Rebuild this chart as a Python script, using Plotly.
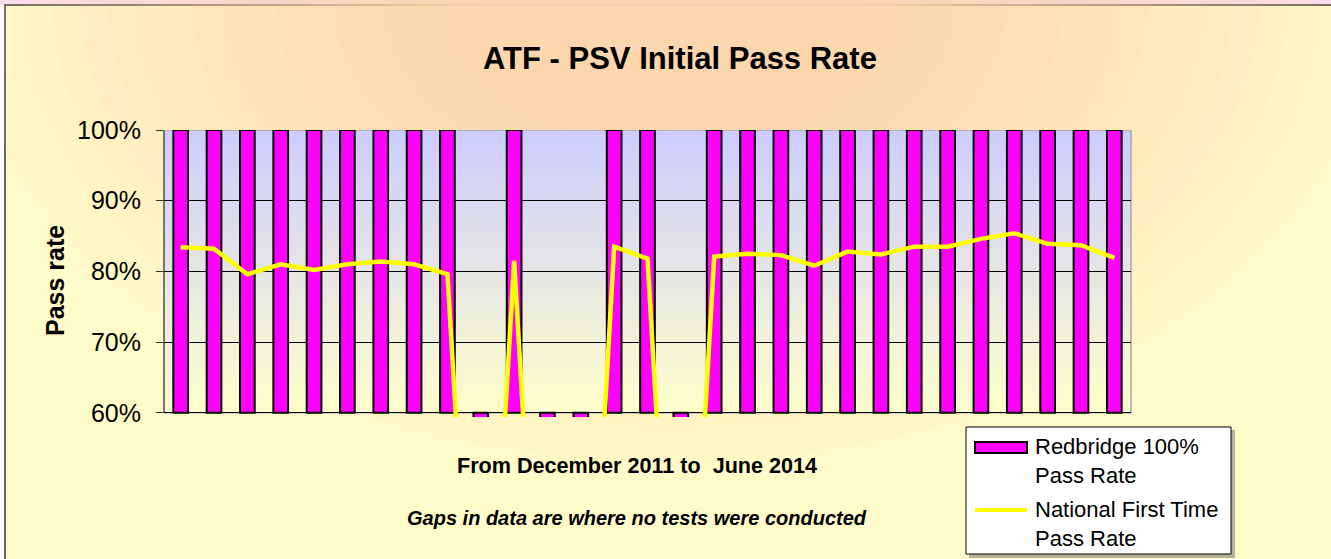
import plotly.graph_objects as go

# ---------------- data ----------------
months = ["Dec 2011", "Jan 2012", "Feb 2012", "Mar 2012", "Apr 2012", "May 2012",
          "Jun 2012", "Jul 2012", "Aug 2012", "Sep 2012", "Oct 2012", "Nov 2012",
          "Dec 2012", "Jan 2013", "Feb 2013", "Mar 2013", "Apr 2013", "May 2013",
          "Jun 2013", "Jul 2013", "Aug 2013", "Sep 2013", "Oct 2013", "Nov 2013",
          "Dec 2013", "Jan 2014", "Feb 2014", "Mar 2014", "Apr 2014"]
redbridge = [1, 1, 1, 1, 1, 1, 1, 1, 1, 0, 1, 0, 0, 1, 1, 0, 1, 1, 1, 1,
             1, 1, 1, 1, 1, 1, 1, 1, 1]
national = [0.834, 0.832, 0.796, 0.810, 0.802, 0.810, 0.814, 0.810, 0.796, 0.0,
            0.815, 0.0, 0.0, 0.835, 0.818, 0.0, 0.821, 0.825, 0.823, 0.808,
            0.828, 0.824, 0.835, 0.835, 0.846, 0.854, 0.839, 0.837, 0.819]
tick_vals = [0.6, 0.7, 0.8, 0.9, 1.0]
tick_text = ["60%", "70%", "80%", "90%", "100%"]
axis_min = 0.6

# ---------------- layout geometry ----------------
W, H = 1331, 559
ML, MR, MT, MB = 164, 200, 130, 142
PW = W - ML - MR
PH = H - MT - MB


def px(x):
    return (x - ML) / PW


def py(y):
    return (H - MB - y) / PH


FONT = "Arial, Liberation Sans, sans-serif"

fig = go.Figure()

fig.add_trace(go.Bar(
    x=months,
    y=[v - axis_min for v in redbridge],
    base=axis_min,
    name="Redbridge 100% Pass Rate",
    marker=dict(color="#ff00ff", line=dict(color="#000000", width=2)),
    showlegend=False,
))

fig.add_trace(go.Scatter(
    x=months,
    y=national,
    mode="lines",
    name="National First Time Pass Rate",
    line=dict(color="#ffff00", width=4.5),
    showlegend=False,
))

shapes = []

# top pink strip and outer frame
shapes.append(dict(type="rect", xref="paper", yref="paper", layer="below",
                   x0=px(-10), x1=px(W + 10), y0=py(5), y1=py(-10),
                   fillcolor="#f9e0f2", line=dict(width=0)))
shapes.append(dict(type="rect", xref="paper", yref="paper", layer="below",
                   x0=px(5), x1=px(W + 20), y0=py(H + 20), y1=py(5),
                   fillcolor="#fffbc8", line=dict(color="#333333", width=1.5)))

# peach glow (stacked ellipses approximating a radial gradient)
N = 26
cx, cy, rx, ry = 670, 0, 730, 480
prev = 0.0
for j in range(N):
    s = 1 - j / N
    d = s - 0.5 / N
    target = min(0.97, max(0.0, (1 - d) / 0.75))
    if target <= prev:
        continue
    a = (target - prev) / (1 - prev)
    prev = target
    shapes.append(dict(type="circle", xref="paper", yref="paper", layer="below",
                       x0=px(cx - rx * s), x1=px(cx + rx * s),
                       y0=py(cy + ry * s), y1=py(cy - ry * s),
                       fillcolor="#fcd6ae", opacity=a, line=dict(width=0)))

# plot-area vertical gradient (lavender -> light yellow)
NS = 60
top = (204, 204, 255)
bot = (255, 255, 204)
for i in range(NS):
    f = (i + 0.5) / NS
    c = tuple(round(bot[k] * (1 - f) + top[k] * f) for k in range(3))
    y0 = axis_min + 0.4 * i / NS
    y1 = axis_min + 0.4 * (i + 1) / NS + 0.001
    shapes.append(dict(type="rect", xref="paper", yref="y", layer="below",
                       x0=0, x1=1, y0=y0, y1=min(y1, 1.0),
                       fillcolor="rgb(%d,%d,%d)" % c, line=dict(width=0)))

# plot area border and y axis line
shapes.append(dict(type="rect", xref="paper", yref="y", layer="between",
                   x0=0, x1=1, y0=0.6, y1=1.0,
                   line=dict(color="#a6a6a6", width=1.5)))
shapes.append(dict(type="line", xref="paper", yref="y", layer="between",
                   x0=0, x1=0, y0=0.6, y1=1.0,
                   line=dict(color="#333333", width=1)))

# legend box
shapes.append(dict(type="rect", xref="paper", yref="paper", layer="above",
                   x0=px(969), x1=px(1235), y0=py(558), y1=py(430),
                   fillcolor="rgba(90,90,90,0.45)", line=dict(width=0)))
shapes.append(dict(type="rect", xref="paper", yref="paper", layer="above",
                   x0=px(966), x1=px(1231), y0=py(554), y1=py(427),
                   fillcolor="#ffffff", line=dict(color="#000000", width=1)))
shapes.append(dict(type="rect", xref="paper", yref="paper", layer="above",
                   x0=px(975), x1=px(1027), y0=py(453), y1=py(442),
                   fillcolor="#ff00ff", line=dict(color="#000000", width=2)))
shapes.append(dict(type="line", xref="paper", yref="paper", layer="above",
                   x0=px(975), x1=px(1027), y0=py(510), y1=py(510),
                   line=dict(color="#ffff00", width=4)))

annotations = [
    dict(text="<b>ATF - PSV Initial Pass Rate</b>", x=px(680), y=py(58),
         xref="paper", yref="paper", xanchor="center", yanchor="middle",
         showarrow=False, font=dict(family=FONT, size=31, color="#000000")),
    dict(text="<b>Pass rate</b>", x=px(55), y=py(281), textangle=-90,
         xref="paper", yref="paper", xanchor="center", yanchor="middle",
         showarrow=False, font=dict(family=FONT, size=25, color="#000000")),
    dict(text="<b>From December 2011 to \u00a0June 2014</b>", x=px(637), y=py(465),
         xref="paper", yref="paper", xanchor="center", yanchor="middle",
         showarrow=False, font=dict(family=FONT, size=21.6, color="#000000")),
    dict(text="<b><i>Gaps in data are where no tests were conducted</i></b>",
         x=px(637), y=py(518),
         xref="paper", yref="paper", xanchor="center", yanchor="middle",
         showarrow=False, font=dict(family=FONT, size=20, color="#000000")),
    dict(text="Redbridge 100%<br>Pass Rate", x=px(1033), y=py(461),
         xref="paper", yref="paper", xanchor="left", yanchor="middle", align="left",
         showarrow=False, font=dict(family=FONT, size=22, color="#000000")),
    dict(text="National First Time<br>Pass Rate", x=px(1033), y=py(524),
         xref="paper", yref="paper", xanchor="left", yanchor="middle", align="left",
         showarrow=False, font=dict(family=FONT, size=22, color="#000000")),
]

fig.update_layout(
    width=W, height=H,
    margin=dict(l=ML, r=MR, t=MT, b=MB, pad=0),
    paper_bgcolor="#ffffff",
    plot_bgcolor="#fffbc8",
    bargap=0.56,
    shapes=shapes,
    annotations=annotations,
    showlegend=False,
    font=dict(family=FONT, color="#000000"),
)

fig.update_xaxes(type="category", range=[-0.5, len(months) - 0.5],
                 showticklabels=False, ticks="", showgrid=False,
                 showline=False, zeroline=False)
fig.update_yaxes(range=[0.594, 1.0], tickvals=tick_vals, ticktext=tick_text,
                 showgrid=True, gridcolor="#000000", gridwidth=1,
                 ticks="outside", ticklen=7, tickcolor="#333333", tickwidth=1,
                 tickfont=dict(family=FONT, size=25, color="#000000"),
                 ticklabelstandoff=10,
                 showline=False, zeroline=False)

fig.write_html("out.html",
               config={"displayModeBar": False},
               post_script="document.body.style.margin='0';"
                           "document.body.style.overflow='hidden';")
